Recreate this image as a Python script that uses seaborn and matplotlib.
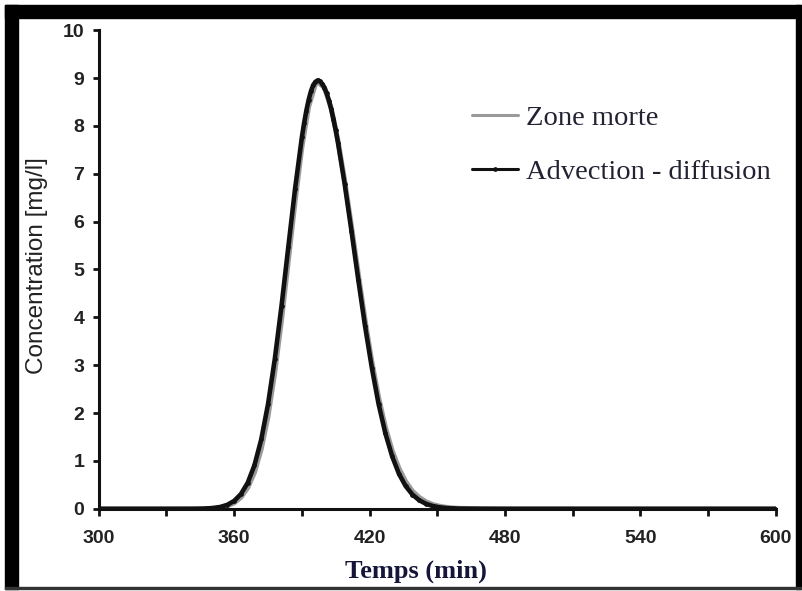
import numpy as np
import pandas as pd
import seaborn as sns
import matplotlib.pyplot as plt
from matplotlib.patches import Rectangle

# ---- data ----
temps_ad = [300, 330, 342, 345, 348, 351, 354, 357, 360, 363, 366, 369, 372, 375, 378,
            381, 384, 387, 390, 391, 392, 393, 394, 395, 396, 397, 398, 399, 400, 401,
            402, 403, 404, 405, 406, 409, 412, 415, 418, 421,
            424, 427, 430, 433, 436, 439, 442, 445, 448, 451, 454, 457, 460, 470, 480,
            500, 520, 540, 560, 580, 600]
conc_ad = [0.0, 0.0, 0.001, 0.003, 0.008, 0.019, 0.041, 0.085, 0.166, 0.309, 0.544, 0.912,
           1.449, 2.186, 3.126, 4.245, 5.471, 6.690, 7.760, 8.06, 8.32, 8.543, 8.72, 8.85,
           8.92, 8.95, 8.93, 8.88, 8.80, 8.68, 8.53, 8.35, 8.14, 7.91,
           7.65, 6.78, 5.80, 4.79, 3.82, 2.95, 2.19, 1.58, 1.10, 0.735, 0.476, 0.298,
           0.180, 0.105, 0.059, 0.032, 0.017, 0.009, 0.005, 0.001, 0.0,
           0.0, 0.0, 0.0, 0.0, 0.0, 0.0]

temps_zm = [300, 330, 342, 345, 348, 351, 354, 357, 360, 363, 366, 369, 372, 375, 378,
            381, 384, 387, 390, 393, 396, 397, 400, 403, 406, 409, 412, 415, 418, 421,
            424, 427, 430, 433, 436, 439, 442, 445, 448, 451, 454, 457, 460, 470, 480,
            500, 520, 540, 560, 580, 600]
conc_zm = [0.0, 0.0, 0.0, 0.002, 0.005, 0.012, 0.028, 0.062, 0.125, 0.24, 0.44, 0.76,
           1.25, 1.93, 2.85, 3.95, 5.18, 6.42, 7.55, 8.40, 8.87, 8.92, 8.80, 8.37,
           7.70, 6.85, 5.90, 4.91, 3.95, 3.08, 2.33, 1.71, 1.22, 0.85, 0.57, 0.37,
           0.24, 0.15, 0.09, 0.055, 0.032, 0.018, 0.010, 0.003, 0.0,
           0.0, 0.0, 0.0, 0.0, 0.0, 0.0]

x_ticks = [300, 360, 420, 480, 540, 600]
x_minor = [330, 390, 450, 510, 570]
y_ticks = list(range(0, 11))

df_zm = pd.DataFrame({"Temps": temps_zm, "Concentration": conc_zm})
df_ad = pd.DataFrame({"Temps": temps_ad, "Concentration": conc_ad})

sns.set_style("ticks")
plt.rcParams["font.family"] = ["Liberation Sans", "DejaVu Sans"]

fig = plt.figure(figsize=(8.03, 5.91), dpi=100)
ax = fig.add_axes([0.123, 0.139, 0.843, 0.810])

sns.lineplot(data=df_zm, x="Temps", y="Concentration", ax=ax, color="#9a9a9a",
             linewidth=3.6, label="Zone morte", sort=True, errorbar=None)
sns.lineplot(data=df_ad, x="Temps", y="Concentration", ax=ax, color="#111111",
             linewidth=3.3, marker="o", markersize=3.4, markeredgewidth=0,
             label="Advection - diffusion", sort=True, errorbar=None)

ax.set_xlim(300, 600)
ax.set_ylim(0, 10)
ax.set_xticks(x_ticks)
ax.set_xticks(x_minor, minor=True)
ax.set_yticks(y_ticks)
for s in ["top", "right"]:
    ax.spines[s].set_visible(False)
for s in ["left", "bottom"]:
    ax.spines[s].set_linewidth(2.2)
    ax.spines[s].set_color("#111111")
ax.tick_params(axis="both", which="both", direction="out", width=2.0, color="#111111")
ax.tick_params(axis="x", which="major", length=5, pad=10)
ax.tick_params(axis="x", which="minor", length=5)
ax.tick_params(axis="y", length=4.5, pad=6)
for lab in ax.get_xticklabels() + ax.get_yticklabels():
    lab.set_fontsize(14)
    lab.set_fontweight("bold")
    lab.set_color("#222222")

ax.set_xlabel("Temps (min)", fontsize=19, fontweight="bold",
              family=["Liberation Serif", "DejaVu Serif"], color="#15153a")
ax.xaxis.set_label_coords(0.468, -0.105)
ax.set_ylabel("Concentration [mg/l]", fontsize=17.5, color="#222222")
ax.yaxis.set_label_coords(-0.075, 0.509)

leg = ax.legend(loc="upper left", bbox_to_anchor=(472 / 803, 1 - 105 / 591),
                bbox_transform=fig.transFigure, frameon=False,
                prop={"family": ["Liberation Serif", "DejaVu Serif"], "size": 20.5},
                handlelength=1.6, handletextpad=0.3, labelspacing=1.0,
                borderaxespad=0, borderpad=0)
for t in leg.get_texts():
    t.set_color("#222233")
for h in leg.get_lines():
    h.set_linewidth(2.2)

# scanned-page black frame
fig.patches.append(Rectangle((5 / 803, 1 - 18 / 591), 796 / 803, 13 / 591,
                             transform=fig.transFigure, color="black", zorder=10))
fig.patches.append(Rectangle((5 / 803, 1 - 589 / 591), 13 / 803, 584 / 591,
                             transform=fig.transFigure, color="black", zorder=10))
fig.patches.append(Rectangle((796 / 803, 1 - 589 / 591), 5 / 803, 584 / 591,
                             transform=fig.transFigure, color="black", zorder=10))
fig.patches.append(Rectangle((5 / 803, 1 - 589 / 591), 796 / 803, 2 / 591,
                             transform=fig.transFigure, color="#333333", zorder=10))

fig.savefig("out.png", dpi=100)
